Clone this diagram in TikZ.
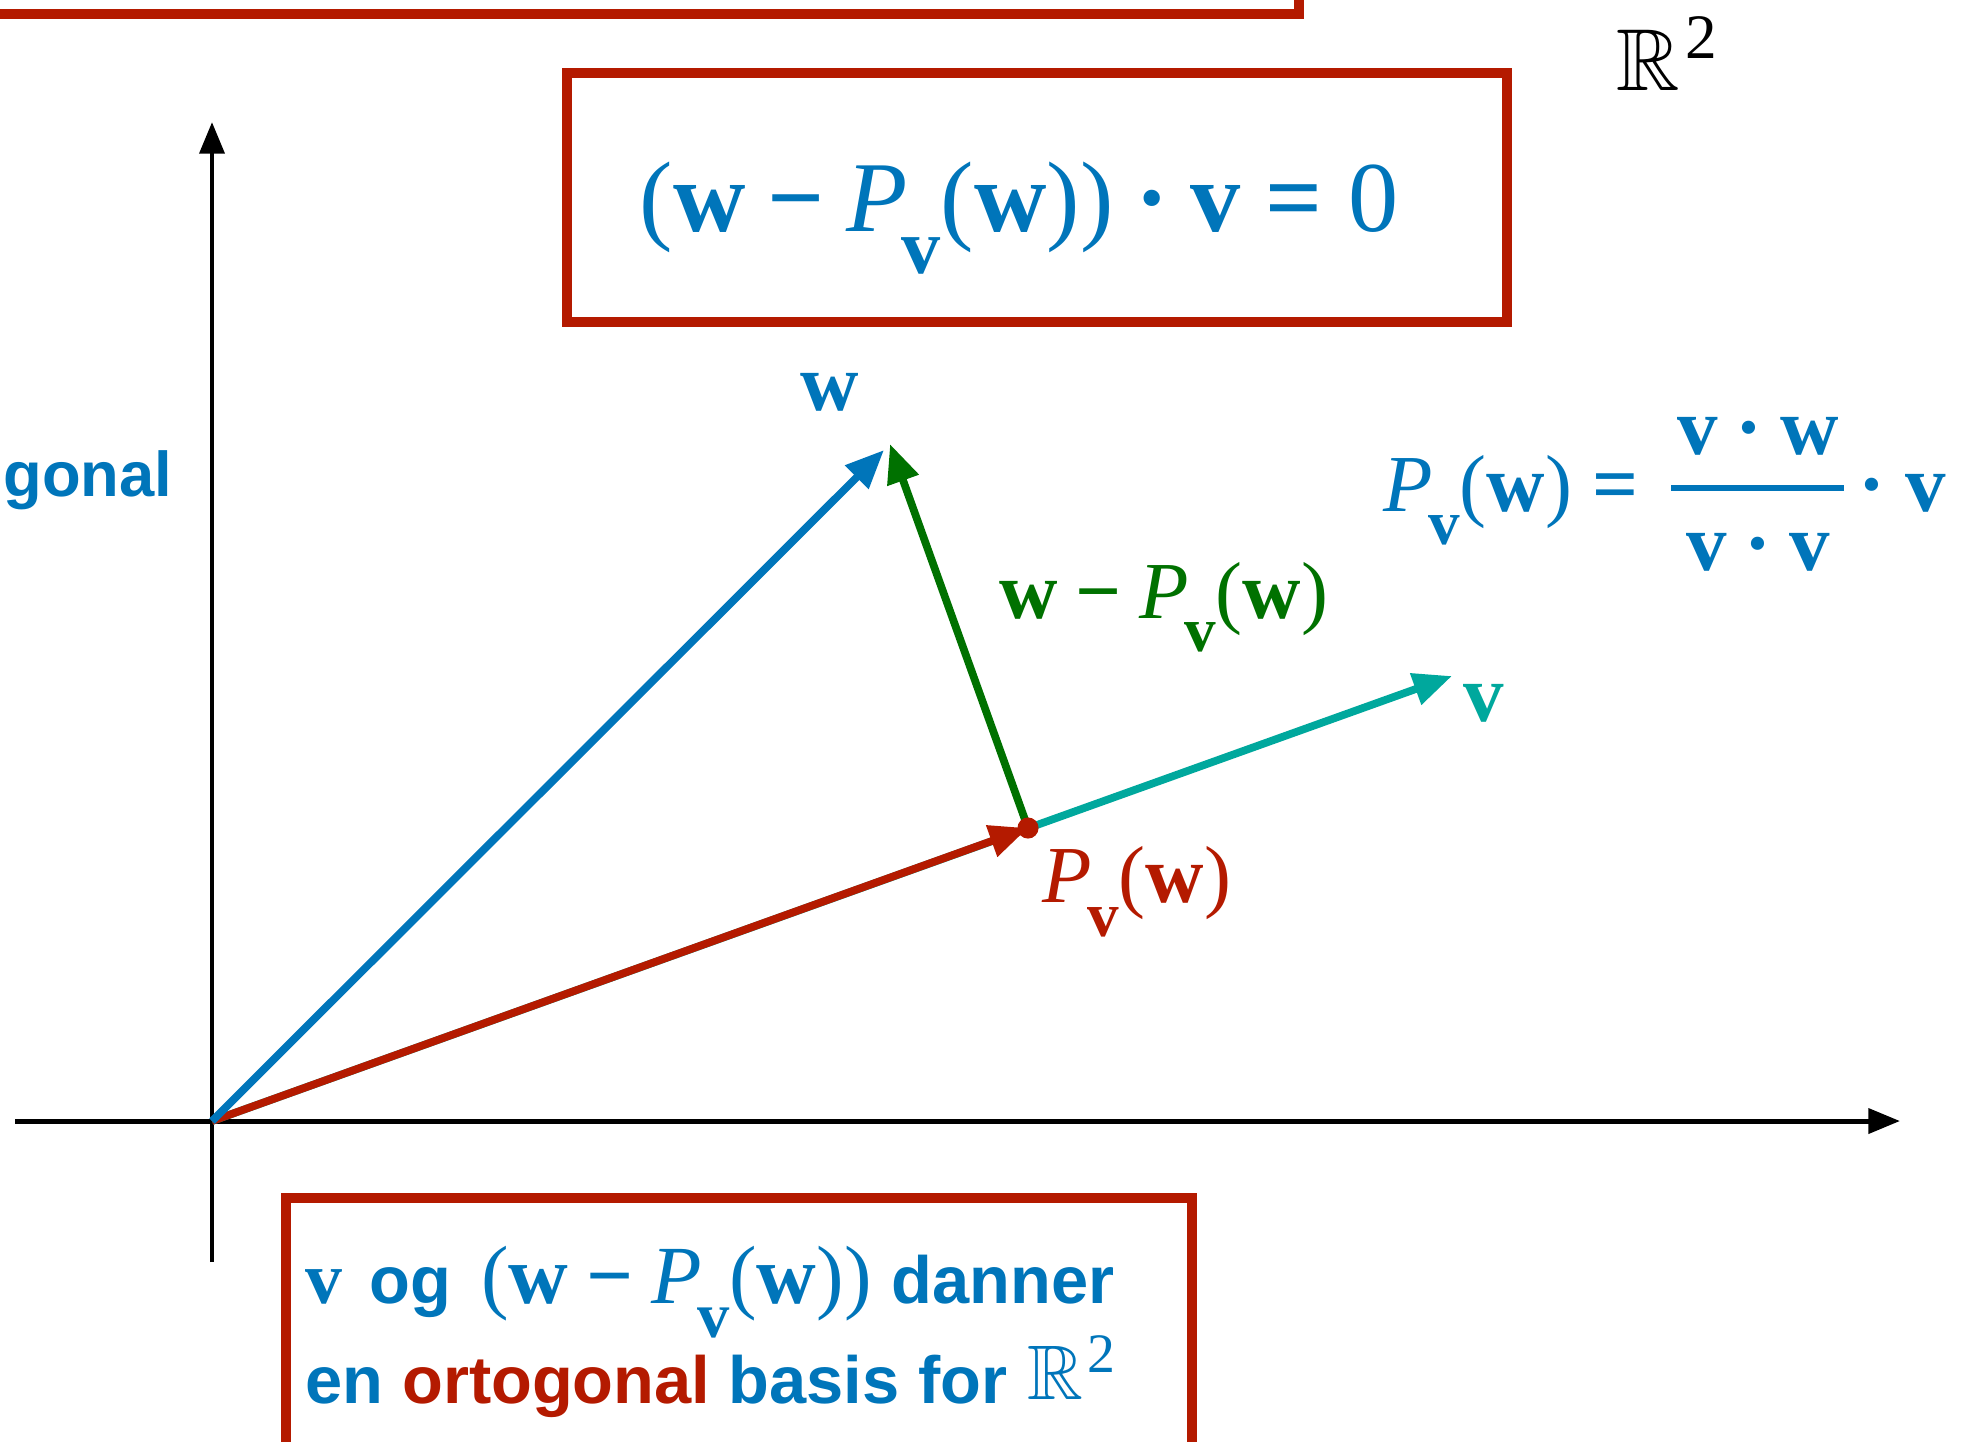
\documentclass[tikz,border=0pt]{standalone}
\usepackage{fontspec}
\usepackage{amssymb}
\usepackage{graphicx}
\setmainfont{Liberation Serif}
\newfontfamily\hv{Liberation Sans}
\usetikzlibrary{arrows.meta}
\definecolor{mblue}{RGB}{0,117,186}
\definecolor{mred}{RGB}{180,26,0}
\definecolor{mgreen}{RGB}{0,113,0}
\definecolor{mteal}{RGB}{0,168,157}
\newcommand\bw{\textbf{w}}
\newcommand\bvv{\textbf{v}}
\newcommand\Pv{\textit{P}\kern-0.06em\raisebox{-0.42em}{\scalebox{0.78}{\textbf{v}}}}
\newcommand\mminus{\hspace{0.22em}\textbf{−}\hspace{0.22em}}
\newcommand\meq{\hspace{0.25em}\textbf{=}\hspace{0.25em}}
\newcommand\mdot{\hspace{0.22em}\textbf{·}\hspace{0.22em}}
\newcommand\RRtwo{\raisebox{0.04em}{$\mathbb{R}$}\kern0.06em\raisebox{0.4em}{\scalebox{0.72}{2}}}
\begin{document}
\begin{tikzpicture}[x=0.01cm,y=-0.01cm,
  axis/.style={line width=1.4pt,-{Triangle[length=9pt,width=7pt]}},
  vec/.style={line width=2.2pt,-{Triangle[length=11pt,width=9pt]}},
  frame/.style={draw=mred,line width=2.6pt},
  lab/.style={inner sep=0pt,font=\fontsize{23}{28}\selectfont},
  big/.style={inner sep=0pt,font=\fontsize{28.5}{34}\selectfont},
  rr/.style={inner sep=0pt,font=\fontsize{25}{30}\selectfont},
  txt/.style={inner sep=0pt,font=\fontsize{19}{23}\selectfont,text=mblue},
]
\useasboundingbox (0,0) rectangle (1977,1441);
\coordinate (O) at (212,1121);
\coordinate (xl) at (15,1121);
\coordinate (xr) at (1900,1121);
\coordinate (yb) at (212,1262);
\coordinate (yt) at (212,122);
\coordinate (W) at (890,444);
\coordinate (Wb) at (884,450);
\coordinate (P) at (1028,828);
\coordinate (V) at (1452,676);
% frames
\draw[frame] (-30,-100) rectangle (1299,14);
\draw[frame] (567,73) rectangle (1507,322);
\draw[frame] (286,1198) rectangle (1192,1480);
% axes
\draw[axis] (xl) -- (xr);
\draw[axis] (yb) -- (yt);
% vectors
\draw[vec,mteal] (O) -- (V);
\draw[vec,mred] (O) -- (P);
\draw[vec,mblue] (O) -- (Wb);
\draw[vec,mgreen] (P) -- (W);
\fill[mred] (P) circle (3pt);
% labels
\node[rr,text=black,anchor=base west] (R2) at (1616,94) {\RRtwo};
\node[big,text=mblue,anchor=base] (eq) at (1019,231) {(\bw\mminus\Pv(\bw))\mdot\bvv\meq0};
\node[lab,text=mblue,anchor=base] (wl) at (830,410) {\bw};
\node[lab,text=mgreen,anchor=base west] (gl) at (999,618) {\bw\mminus\Pv(\bw)};
\node[lab,text=mteal,anchor=base] (vl) at (1484,721) {\bvv};
\node[lab,text=mred,anchor=base west] (pl) at (1042,902) {\Pv(\bw)};
\node[lab,text=mblue,anchor=base west] (lhs) at (1383,511) {\Pv(\bw)\meq};
\node[lab,text=mblue,anchor=base] (num) at (1758,454) {\bvv\mdot\bw};
\node[lab,text=mblue,anchor=base] (den) at (1758,570) {\bvv\mdot\bvv};
\draw[mblue,line width=1.5pt] (1671,488) -- (1844,488);
\node[lab,text=mblue,anchor=base west] (rv) at (1858,511) {\textbf{·}\hspace{0.25em}\bvv};
\node[txt,anchor=base east,font=\fontsize{18}{22}\selectfont] (gon) at (173,496) {\hv\bfseries gonal};
\node[txt,anchor=base west] (l1) at (305,1303) {{\fontsize{21}{25}\selectfont\bvv}\hspace{0.4em}{\hv\bfseries og}\hspace{0.45em}{\fontsize{23.5}{28}\selectfont(\bw\mminus\Pv(\bw))}\hspace{0.3em}{\hv\bfseries danner}};
\node[txt,anchor=base west] (l2) at (305,1403) {{\hv\bfseries en \textcolor{mred}{ortogonal} basis for}\hspace{0.3em}{\fontsize{22}{26}\selectfont\RRtwo}};
\end{tikzpicture}
\end{document}
